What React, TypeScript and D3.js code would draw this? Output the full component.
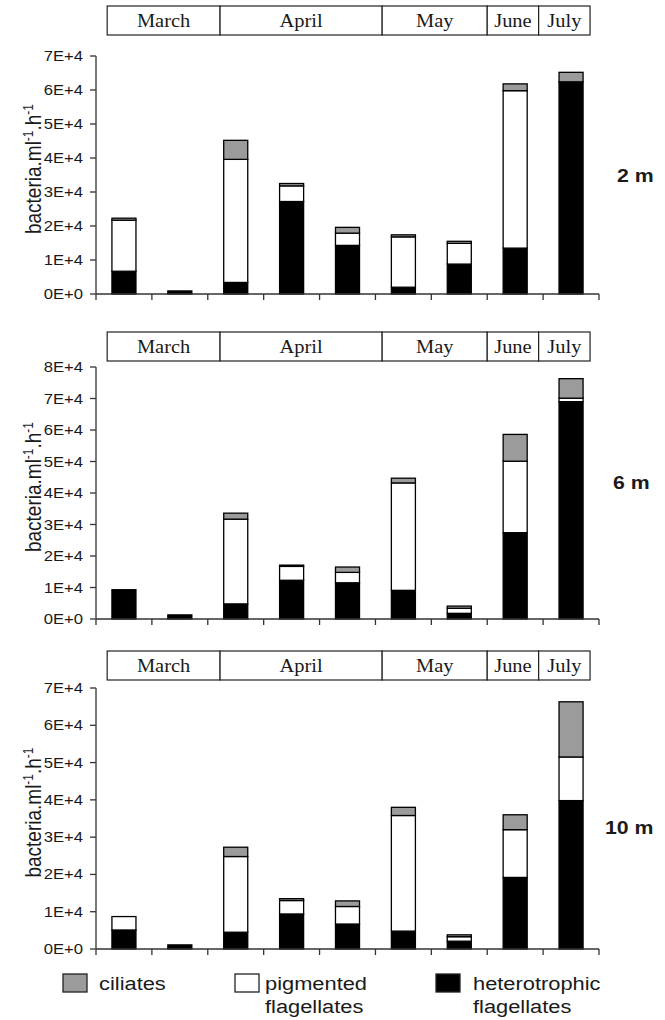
import React from "react";
import * as d3 from "d3";

// sample dates (9 per depth), months shown in the header strip
const samples = ["S1", "S2", "S3", "S4", "S5", "S6", "S7", "S8", "S9"];
const months = ["March", "April", "May", "June", "July"];
// month box edges, in sample units along the x axis
const monthEdges = [0.2, 2.22, 5.12, 7.0, 7.92, 8.84];

const keys = ["het", "pig", "cil"];
const legendNames = [["ciliates"], ["pigmented", "flagellates"], ["heterotrophic", "flagellates"]];

// bacteria.ml-1.h-1, values in thousands
const het2 = [6.7, 0.9, 3.4, 27.2, 14.3, 2.0, 8.8, 13.5, 62.4];
const pig2 = [15.0, 0, 36.2, 4.6, 3.6, 14.8, 6.1, 46.3, 0];
const cil2 = [0.6, 0, 5.6, 0.7, 1.7, 0.6, 0.6, 2.0, 2.8];

const het6 = [9.3, 1.3, 4.8, 12.3, 11.5, 9.1, 1.8, 27.4, 69.0];
const pig6 = [0, 0, 26.9, 4.4, 3.3, 34.1, 1.6, 22.7, 1.1];
const cil6 = [0, 0, 1.9, 0.4, 1.7, 1.5, 0.7, 8.5, 6.2];

const het10 = [5.1, 1.1, 4.5, 9.4, 6.7, 4.8, 2.1, 19.2, 39.8];
const pig10 = [3.6, 0, 20.3, 3.6, 4.7, 31.0, 1.2, 12.8, 11.7];
const cil10 = [0, 0, 2.5, 0.5, 1.5, 2.2, 0.5, 4.0, 14.8];

const colors: Record<string, string> = { het: "#000", pig: "#fff", cil: "#9b9b9b" };

const SANS = "'Liberation Sans', Arial, sans-serif";
const SERIF = "'Liberation Serif', 'Times New Roman', serif";
const SX = 1.15; // the scan is a bit wide

const left = 96, right = 599;

const panels = [
  { label: "2 m", het: het2, pig: pig2, cil: cil2, max: 70, top: 56, bottom: 294, head: 6, labelX: 617, labelY: 182 },
  { label: "6 m", het: het6, pig: pig6, cil: cil6, max: 80, top: 367, bottom: 619, head: 332, labelX: 613, labelY: 489 },
  { label: "10 m", het: het10, pig: pig10, cil: cil10, max: 70, top: 688, bottom: 949, head: 651, labelX: 605, labelY: 834 },
];

function T({ x, y, children, anchor = "start", size = 14, weight = "normal", font = SANS, sx = SX }: any) {
  return (
    <text transform={`translate(${x},${y}) scale(${sx},1)`} textAnchor={anchor}
          fontFamily={font} fontSize={size} fontWeight={weight} fill="#1a1a1a">
      {children}
    </text>
  );
}

function Panel({ p }: any) {
  const xs = d3.scaleLinear().domain([0, samples.length]).range([left, right]);
  const xb = d3.scaleBand().domain(samples).range([left, right]).paddingInner(0.57).paddingOuter(0.285);
  const y = d3.scaleLinear().domain([0, p.max * 1000]).range([p.bottom, p.top]);

  const rows = samples.map((s, i) => ({ s, het: p.het[i] * 1000, pig: p.pig[i] * 1000, cil: p.cil[i] * 1000 }));
  const series = d3.stack<any>().keys(keys)(rows);
  const ticks = y.ticks(p.max / 10);
  const fmt = (v: number) => (v === 0 ? "0E+0" : `${v / 1e4}E+4`);

  return (
    <g>
      {/* month strip */}
      {months.map((m, i) => (
        <g key={m}>
          <rect x={xs(monthEdges[i])} y={p.head} width={xs(monthEdges[i + 1]) - xs(monthEdges[i])}
                height={29} fill="#fff" stroke="#222" strokeWidth={1.2} />
          <T x={(xs(monthEdges[i]) + xs(monthEdges[i + 1])) / 2} y={p.head + 21} anchor="middle"
             size={19.5} font={SERIF} sx={1.05}>{m}</T>
        </g>
      ))}

      {/* bars */}
      {series.map(ser => (
        <g key={ser.key}>
          {ser.map((d: any, i: number) => d[1] - d[0] > 0 ? (
            <rect key={i} x={xb(d.data.s)} width={xb.bandwidth()} y={y(d[1])} height={y(d[0]) - y(d[1])}
                  fill={colors[ser.key]} stroke="#000" strokeWidth={1.3} />
          ) : null)}
        </g>
      ))}

      {/* y axis */}
      <line x1={left} x2={left} y1={p.top} y2={p.bottom} stroke="#333" strokeWidth={1.3} />
      {ticks.map(t => (
        <g key={t}>
          <line x1={left - 6} x2={left} y1={y(t)} y2={y(t)} stroke="#333" strokeWidth={1.3} />
          <T x={left - 13} y={y(t) + 5} anchor="end" size={14.5}>{fmt(t)}</T>
        </g>
      ))}

      {/* x axis */}
      <line x1={left} x2={right} y1={p.bottom} y2={p.bottom} stroke="#333" strokeWidth={1.3} />
      {xs.ticks(samples.length).map(t => (
        <line key={t} x1={xs(t)} x2={xs(t)} y1={p.bottom} y2={p.bottom + 6} stroke="#333" strokeWidth={1.3} />
      ))}

      {/* axis title */}
      <text transform={`translate(41,${(p.top + p.bottom) / 2 - 6}) rotate(-90) scale(1,${SX})`}
            textAnchor="middle" fontFamily={SANS} fontSize={19} fill="#1a1a1a">
        bacteria.ml<tspan dy={-7} fontSize={12}>-1</tspan><tspan dy={7}>.h</tspan><tspan dy={-7} fontSize={12}>-1</tspan>
      </text>

      <T x={p.labelX} y={p.labelY} size={18.5} weight="bold">{p.label}</T>
    </g>
  );
}

function Legend() {
  const items = [
    { key: "cil", x: 63, tx: 99 },
    { key: "pig", x: 235, tx: 265 },
    { key: "het", x: 436, tx: 473 },
  ];
  return (
    <g>
      {items.map((it, i) => (
        <g key={it.key}>
          <rect x={it.x} y={974} width={24} height={18} fill={colors[it.key]} stroke="#222" strokeWidth={1.3} />
          {legendNames[i].map((n, j) => (
            <T key={j} x={it.tx} y={990 + j * 23} size={19}>{n}</T>
          ))}
        </g>
      ))}
    </g>
  );
}

export default function App() {
  return (
    <svg width={665} height={1020} viewBox="0 0 665 1020"
         style={{ position: "absolute", left: 0, top: 0, background: "#fff" }}>
      <rect width={665} height={1020} fill="#fff" />
      {panels.map(p => <Panel key={p.label} p={p} />)}
      <Legend />
    </svg>
  );
}
